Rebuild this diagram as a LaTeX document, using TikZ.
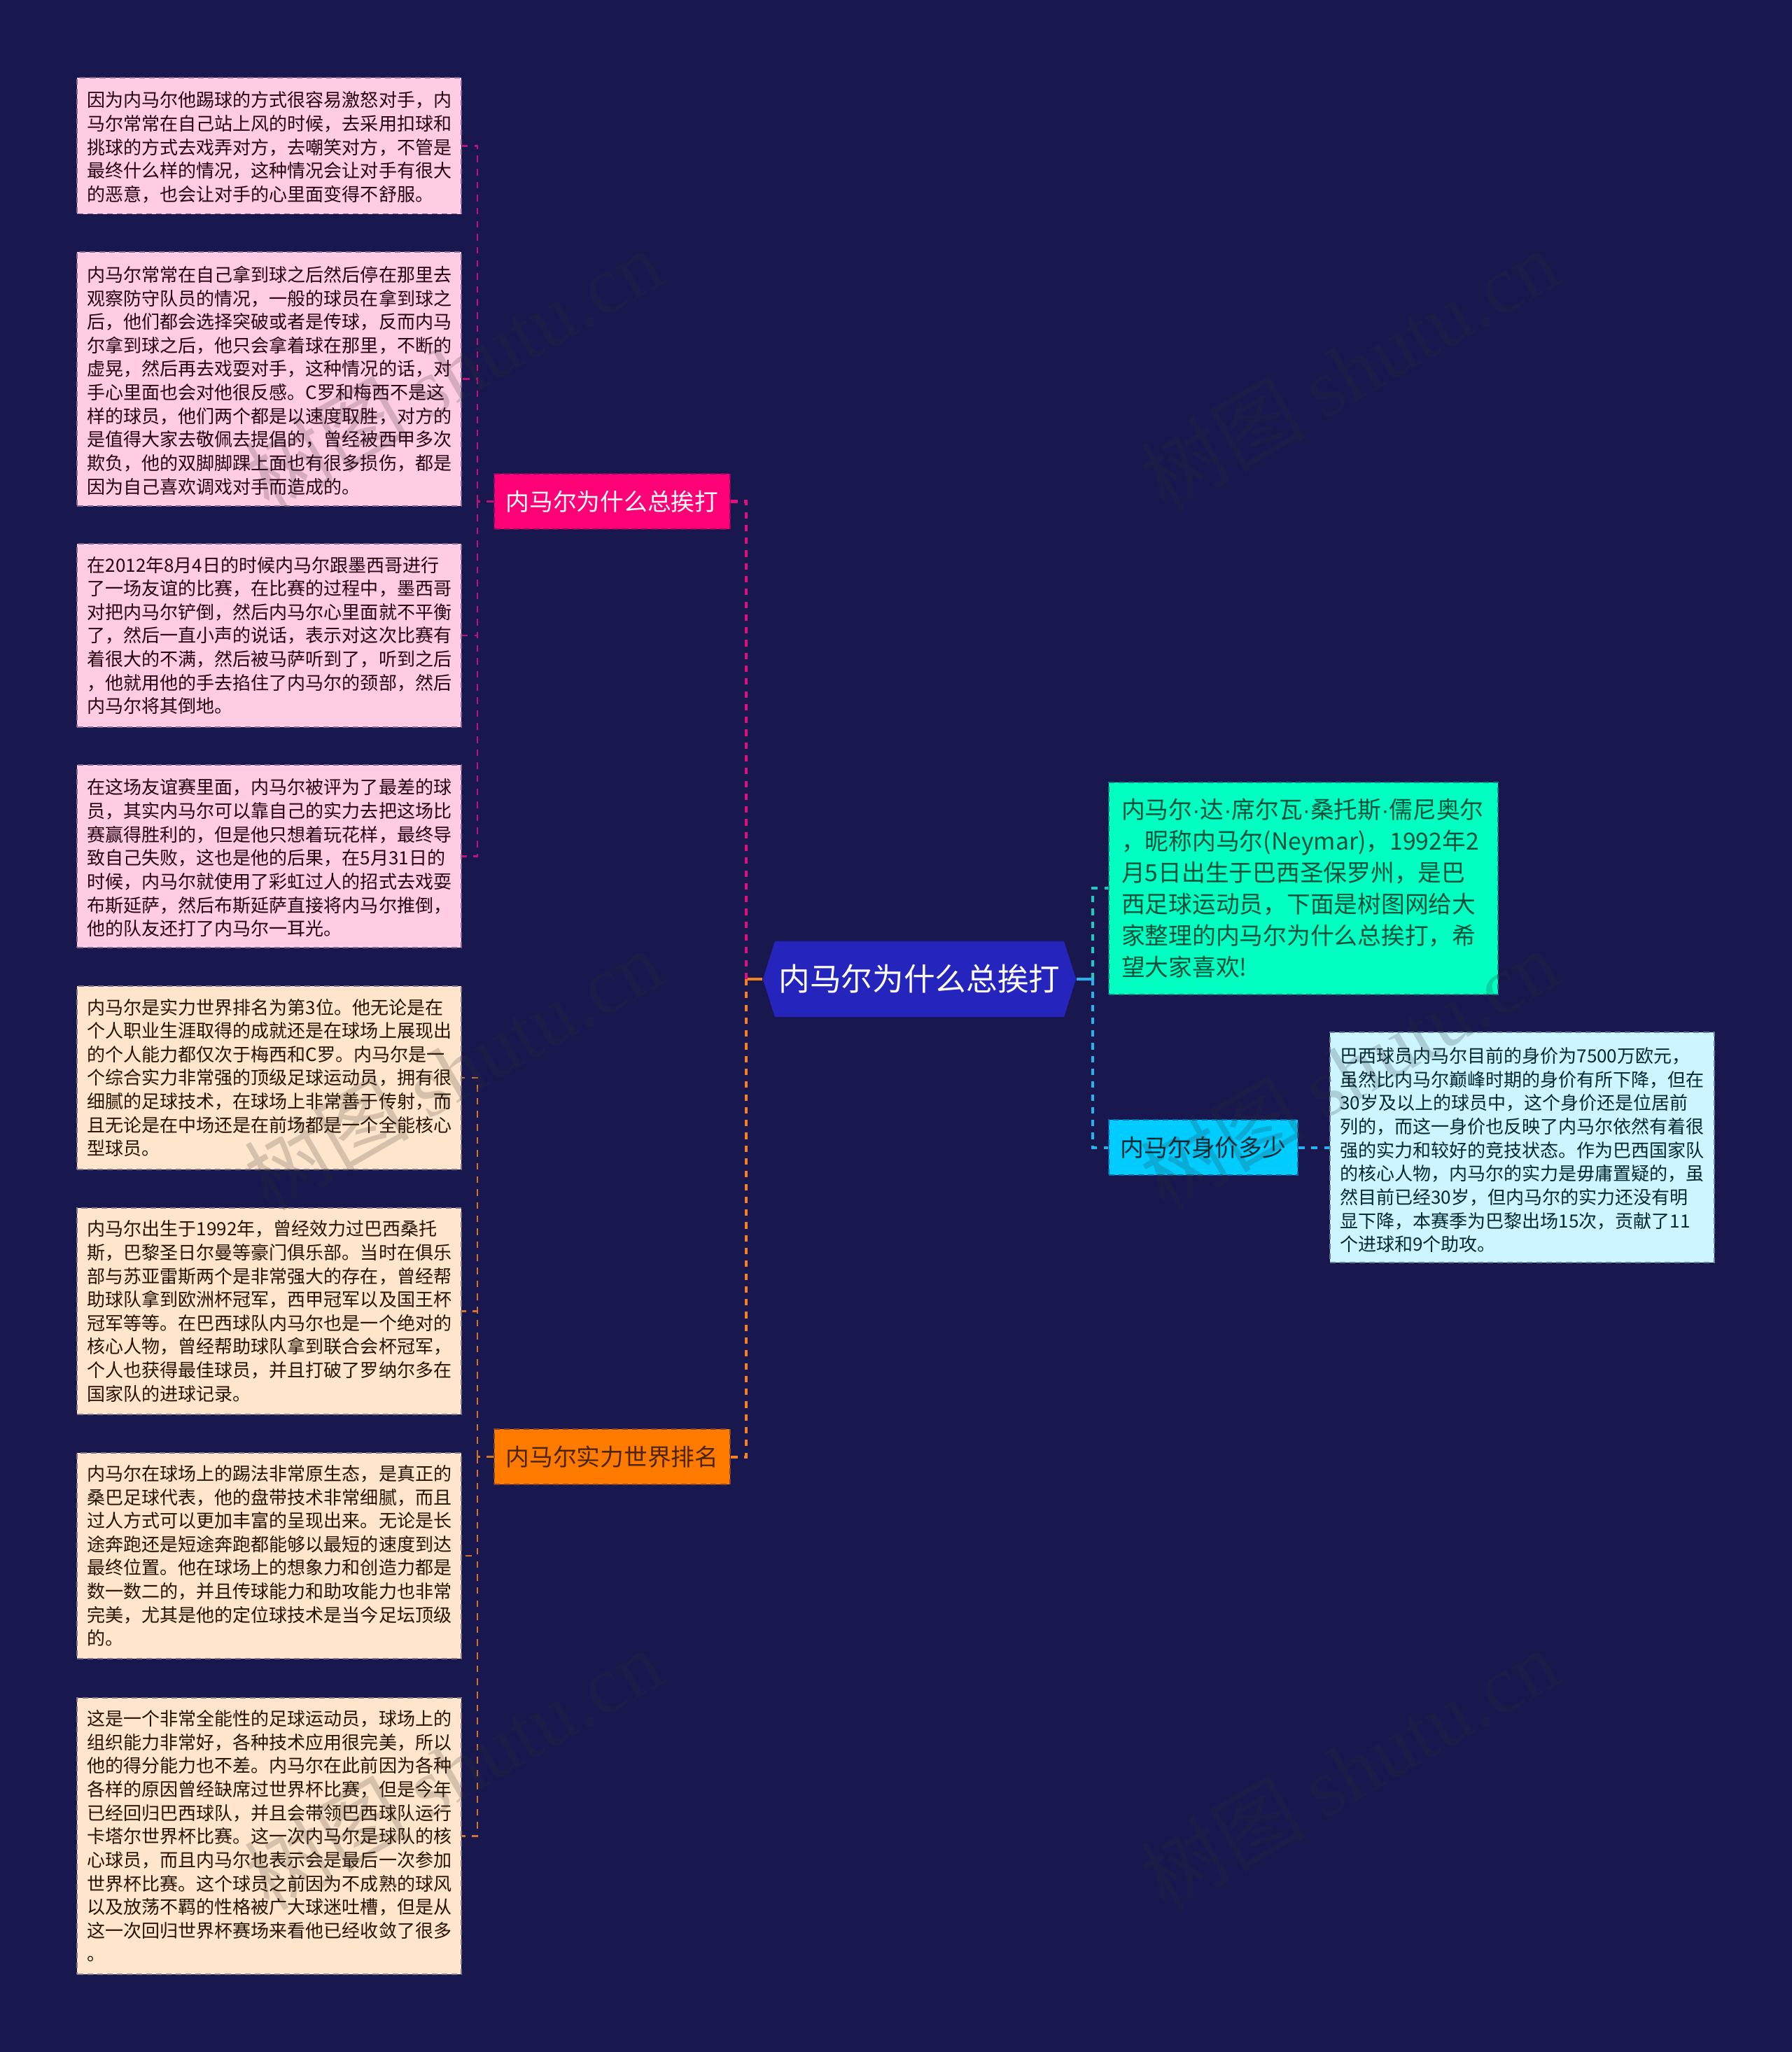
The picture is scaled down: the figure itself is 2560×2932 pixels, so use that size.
\documentclass[tikz,border=0pt]{standalone}
\usepackage{fontspec}
\setmainfont{Noto Sans CJK SC}
\newfontfamily\markfont{Liberation Serif}
\newfontfamily\dotfont{Liberation Sans}
\newcommand{\namedot}{{\dotfont ·}}
\usetikzlibrary{shapes.symbols}
\definecolor{bgnavy}{HTML}{18184F}
\definecolor{rootblue}{HTML}{2524BC}
\definecolor{hotpink}{HTML}{FF0077}
\definecolor{softpink}{HTML}{FFCCE4}
\definecolor{linepink}{HTML}{E0107F}
\definecolor{hotorange}{HTML}{FF7B00}
\definecolor{softorange}{HTML}{FFE5CC}
\definecolor{lineorange}{HTML}{F58220}
\definecolor{hotteal}{HTML}{00FFC0}
\definecolor{lineteal}{HTML}{14D0BC}
\definecolor{hotblue}{HTML}{00CCFF}
\definecolor{softblue}{HTML}{CCF5FF}
\definecolor{lineblue}{HTML}{22B4F0}
\definecolor{markgray}{HTML}{2D2D2D}
\tikzset{
	bordered/.style={draw=#1!45!bgnavy, fill=#1, line width=0.55pt, dash pattern=on 2.3pt off 1.7pt, inner sep=0pt},
	leafbox/.style={bordered=#1, minimum width=5.484cm, text width=5.2cm, align=left, font=\fontsize{7.4}{9.56}\selectfont},
	labelbox/.style={bordered=#1, minimum height=0.79cm, font=\fontsize{9.6}{12.8}\selectfont},
	nudged/.style={execute at begin node={\rule{0pt}{#1}}},
	buslink/.style={line width=0.8pt, #1!85!bgnavy, dash pattern=on 2.7pt off 2.6pt},
	trunklink/.style={line width=1.15pt, #1, dash pattern=on 2.6pt off 2.6pt},
	stublink/.style={line width=1.15pt, #1},
	watermark/.style={rotate=30, text=markgray, text opacity=0.2, font=\fontsize{33.5}{36}\selectfont},
}
\begin{document}
\begin{tikzpicture}[x=0.01cm, y=0.01cm]
	\useasboundingbox (0,0) rectangle (2560,-2932);
	\fill[bgnavy] (0,0) rectangle (2560,-2932);
	% centre
	\node[shape=signal, signal to=west and east, signal pointer angle=145, fill=rootblue, text=white, inner sep=0pt, minimum width=4.47cm, minimum height=1.08cm, font=\fontsize{12.7}{15}\selectfont] (main) at (1313.5,-1399) {内马尔为什么总挨打};
	% left branches
	\node[labelbox=hotpink, minimum width=3.37cm, text=white] (whylabel) at (874.5,-716.5) {内马尔为什么总挨打};
	\node[labelbox=hotorange, minimum width=3.37cm, text=black!70!hotorange] (ranklabel) at (874.5,-2081.5) {内马尔实力世界排名};
	\node[leafbox=softpink, nudged=7.6pt, minimum height=1.945cm, text=black!85!hotpink] (why1) at (384.8,-208.2) {因为内马尔他踢球的方式很容易激怒对手，内\\
马尔常常在自己站上风的时候，去采用扣球和\\
挑球的方式去戏弄对方，去嘲笑对方，不管是\\
最终什么样的情况，这种情况会让对手有很大\\
的恶意，也会让对手的心里面变得不舒服。};
	\node[leafbox=softpink, nudged=7.6pt, minimum height=3.63cm, text=black!85!hotpink] (why2) at (384.8,-541.5) {内马尔常常在自己拿到球之后然后停在那里去\\
观察防守队员的情况，一般的球员在拿到球之\\
后，他们都会选择突破或者是传球，反而内马\\
尔拿到球之后，他只会拿着球在那里，不断的\\
虚晃，然后再去戏耍对手，这种情况的话，对\\
手心里面也会对他很反感。C罗和梅西不是这\\
样的球员，他们两个都是以速度取胜，对方的\\
是值得大家去敬佩去提倡的，曾经被西甲多次\\
欺负，他的双脚脚踝上面也有很多损伤，都是\\
因为自己喜欢调戏对手而造成的。};
	\node[leafbox=softpink, minimum height=2.62cm, text=black!85!hotpink] (why3) at (384.8,-908) {在2012年8月4日的时候内马尔跟墨西哥进行\\
了一场友谊的比赛，在比赛的过程中，墨西哥\\
对把内马尔铲倒，然后内马尔心里面就不平衡\\
了，然后一直小声的说话，表示对这次比赛有\\
着很大的不满，然后被马萨听到了，听到之后\\
，他就用他的手去掐住了内马尔的颈部，然后\\
内马尔将其倒地。};
	\node[leafbox=softpink, nudged=7.6pt, minimum height=2.61cm, text=black!85!hotpink] (why4) at (384.8,-1223.5) {在这场友谊赛里面，内马尔被评为了最差的球\\
员，其实内马尔可以靠自己的实力去把这场比\\
赛赢得胜利的，但是他只想着玩花样，最终导\\
致自己失败，这也是他的后果，在5月31日的\\
时候，内马尔就使用了彩虹过人的招式去戏耍\\
布斯延萨，然后布斯延萨直接将内马尔推倒，\\
他的队友还打了内马尔一耳光。};
	\node[leafbox=softorange, minimum height=2.62cm, text=black!85!hotorange] (rank1) at (384.8,-1540) {内马尔是实力世界排名为第3位。他无论是在\\
个人职业生涯取得的成就还是在球场上展现出\\
的个人能力都仅次于梅西和C罗。内马尔是一\\
个综合实力非常强的顶级足球运动员，拥有很\\
细腻的足球技术，在球场上非常善于传射，而\\
且无论是在中场还是在前场都是一个全能核心\\
型球员。};
	\node[leafbox=softorange, minimum height=2.95cm, text=black!85!hotorange] (rank2) at (384.8,-1873.5) {内马尔出生于1992年，曾经效力过巴西桑托\\
斯，巴黎圣日尔曼等豪门俱乐部。当时在俱乐\\
部与苏亚雷斯两个是非常强大的存在，曾经帮\\
助球队拿到欧洲杯冠军，西甲冠军以及国王杯\\
冠军等等。在巴西球队内马尔也是一个绝对的\\
核心人物，曾经帮助球队拿到联合会杯冠军，\\
个人也获得最佳球员，并且打破了罗纳尔多在\\
国家队的进球记录。};
	\node[leafbox=softorange, minimum height=2.94cm, text=black!85!hotorange] (rank3) at (384.8,-2223) {内马尔在球场上的踢法非常原生态，是真正的\\
桑巴足球代表，他的盘带技术非常细腻，而且\\
过人方式可以更加丰富的呈现出来。无论是长\\
途奔跑还是短途奔跑都能够以最短的速度到达\\
最终位置。他在球场上的想象力和创造力都是\\
数一数二的，并且传球能力和助攻能力也非常\\
完美，尤其是他的定位球技术是当今足坛顶级\\
的。};
	\node[leafbox=softorange, minimum height=3.95cm, text=black!85!hotorange] (rank4) at (384.8,-2623.5) {这是一个非常全能性的足球运动员，球场上的\\
组织能力非常好，各种技术应用很完美，所以\\
他的得分能力也不差。内马尔在此前因为各种\\
各样的原因曾经缺席过世界杯比赛，但是今年\\
已经回归巴西球队，并且会带领巴西球队运行\\
卡塔尔世界杯比赛。这一次内马尔是球队的核\\
心球员，而且内马尔也表示会是最后一次参加\\
世界杯比赛。这个球员之前因为不成熟的球风\\
以及放荡不羁的性格被广大球迷吐槽，但是从\\
这一次回归世界杯赛场来看他已经收敛了很多\\
。};
	% right branches
	\node[bordered=hotteal, minimum width=5.555cm, minimum height=3.027cm, text width=5.2cm, align=left, text=black!68!hotteal, font=\fontsize{9.6}{12.8}\selectfont] (intro) at (1862.2,-1269.3) {内马尔\namedot 达\namedot 席尔瓦\namedot 桑托斯\namedot 儒尼奥尔\\
，昵称内马尔(Neymar)，1992年2\\
月5日出生于巴西圣保罗州，是巴\\
西足球运动员，下面是树图网给大\\
家整理的内马尔为什么总挨打，希\\
望大家喜欢!};
	\node[labelbox=hotblue, minimum width=2.7cm, text=black!80!hotblue] (pricelabel) at (1719,-1639.5) {内马尔身价多少};
	\node[leafbox=softblue, nudged=8.4pt, minimum width=5.49cm, minimum height=3.29cm, text=black!80!hotblue] (price) at (2174.5,-1639.5) {巴西球员内马尔目前的身价为7500万欧元，\\
虽然比内马尔巅峰时期的身价有所下降，但在\\
30岁及以上的球员中，这个身价还是位居前\\
列的，而这一身价也反映了内马尔依然有着很\\
强的实力和较好的竞技状态。作为巴西国家队\\
的核心人物，内马尔的实力是毋庸置疑的，虽\\
然目前已经30岁，但内马尔的实力还没有明\\
显下降，本赛季为巴黎出场15次，贡献了11\\
个进球和9个助攻。};
	% connectors
	\coordinate (lefthub) at (1066,-1399);
	\coordinate (righthub) at (1561,-1399);
	\coordinate (whybus) at (682,-716.5);
	\coordinate (rankbus) at (682,-2081.5);
	\draw[stublink=lineorange] (main.west)--(lefthub);
	\draw[stublink=lineblue] (main.east)--(righthub);
	\draw[trunklink=linepink] (lefthub) |- (whylabel.east);
	\draw[trunklink=lineorange] (lefthub) |- (ranklabel.east);
	\draw[trunklink=lineteal] (righthub) |- (intro.west);
	\draw[trunklink=lineblue] (righthub) |- (pricelabel.west);
	\draw[trunklink=lineblue] (pricelabel.east)--(price.west);
	\draw[buslink=linepink] (whylabel.west)--(whybus);
	\draw[buslink=linepink] (whybus) |- (why1.east);
	\draw[buslink=linepink] (whybus) |- (why2.east);
	\draw[buslink=linepink] (whybus) |- (why3.east);
	\draw[buslink=linepink] (whybus) |- (why4.east);
	\draw[buslink=lineorange] (ranklabel.west)--(rankbus);
	\draw[buslink=lineorange] (rankbus) |- (rank1.east);
	\draw[buslink=lineorange] (rankbus) |- (rank2.east);
	\draw[buslink=lineorange] (rankbus) |- (rank3.east);
	\draw[buslink=lineorange] (rankbus) |- (rank4.east);
	% watermarks
	\node[watermark] (mark1) at (647,-528) {树图 {\markfont shutu.cn}};
	\node[watermark] (mark2) at (1927,-528) {树图 {\markfont shutu.cn}};
	\node[watermark] (mark3) at (647,-1528) {树图 {\markfont shutu.cn}};
	\node[watermark] (mark4) at (1927,-1528) {树图 {\markfont shutu.cn}};
	\node[watermark] (mark5) at (647,-2528) {树图 {\markfont shutu.cn}};
	\node[watermark] (mark6) at (1927,-2528) {树图 {\markfont shutu.cn}};
\end{tikzpicture}
\end{document}
